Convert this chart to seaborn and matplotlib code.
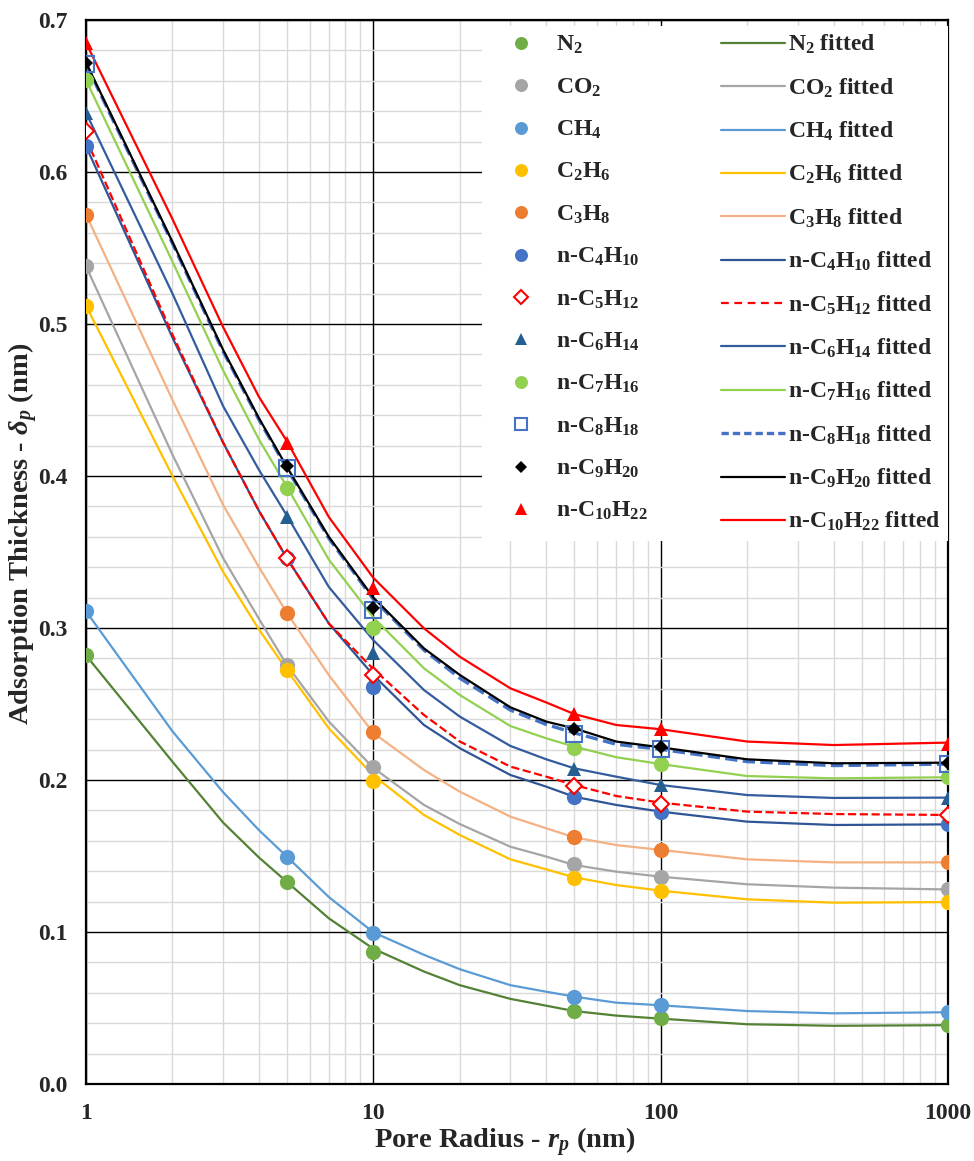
import numpy as np
import pandas as pd
import matplotlib
matplotlib.use("Agg")
import matplotlib.pyplot as plt
from matplotlib.lines import Line2D
from matplotlib.ticker import FixedLocator, NullFormatter, MultipleLocator, FuncFormatter
import seaborn as sns

# ---------------- data ----------------
x_pts = [1, 5, 10, 50, 100, 1000]
x_fit = [1, 2, 3, 4, 5, 7, 10, 15, 20, 30, 40, 50, 70, 100, 200, 400, 1000]

species = ["N2", "CO2", "CH4", "C2H6", "C3H8", "nC4H10", "nC5H12",
           "nC6H14", "nC7H16", "nC8H18", "nC9H20", "nC10H22"]
labels = ["N$_2$", "CO$_2$", "CH$_4$", "C$_2$H$_6$", "C$_3$H$_8$",
          "n-C$_4$H$_{10}$", "n-C$_5$H$_{12}$", "n-C$_6$H$_{14}$",
          "n-C$_7$H$_{16}$", "n-C$_8$H$_{18}$", "n-C$_9$H$_{20}$",
          "n-C$_{10}$H$_{22}$"]

pts_N2 = [0.282, 0.133, 0.087, 0.048, 0.0432, 0.0386]
pts_CO2 = [0.538, 0.2757, 0.2088, 0.1445, 0.1364, 0.128]
pts_CH4 = [0.311, 0.1496, 0.0995, 0.0572, 0.0518, 0.0472]
pts_C2H6 = [0.512, 0.2724, 0.1993, 0.1353, 0.127, 0.1197]
pts_C3H8 = [0.572, 0.3097, 0.2318, 0.1623, 0.154, 0.1458]
pts_C4 = [0.6173, 0.3458, 0.261, 0.1886, 0.179, 0.1708]
pts_C5 = [0.627, 0.346, 0.2691, 0.1963, 0.184, 0.177]
pts_C6 = [0.639, 0.3732, 0.2833, 0.2075, 0.1967, 0.1884]
pts_C7 = [0.6605, 0.3919, 0.2998, 0.221, 0.2104, 0.2018]
pts_C8 = [0.6708, 0.405, 0.3118, 0.230, 0.2202, 0.2105]
pts_C9 = [0.672, 0.4066, 0.3129, 0.2333, 0.222, 0.2114]
pts_C10 = [0.6846, 0.4219, 0.3261, 0.2434, 0.2338, 0.2235]

fit_N2 = [0.282, 0.212, 0.172, 0.149, 0.133, 0.109, 0.089, 0.074, 0.065, 0.056, 0.0515, 0.048, 0.045, 0.043, 0.0393, 0.0383, 0.0387]
fit_CO2 = [0.538, 0.414, 0.346, 0.306, 0.2757, 0.2385, 0.208, 0.1836, 0.171, 0.1561, 0.1496, 0.1441, 0.1397, 0.1364, 0.1314, 0.1292, 0.128]
fit_CH4 = [0.311, 0.232, 0.192, 0.167, 0.1496, 0.123, 0.0998, 0.085, 0.0755, 0.065, 0.0607, 0.0575, 0.0535, 0.0518, 0.048, 0.0465, 0.0472]
fit_C2H6 = [0.512, 0.400, 0.337, 0.299, 0.2724, 0.234, 0.203, 0.177, 0.1638, 0.1478, 0.1412, 0.136, 0.1309, 0.1272, 0.1215, 0.1193, 0.1197]
fit_C3H8 = [0.572, 0.450, 0.381, 0.340, 0.310, 0.269, 0.231, 0.2066, 0.1923, 0.1759, 0.1682, 0.1623, 0.1572, 0.154, 0.1478, 0.1458, 0.1458]
fit_C4 = [0.617, 0.491, 0.422, 0.377, 0.346, 0.303, 0.269, 0.2362, 0.2209, 0.2033, 0.1956, 0.189, 0.1836, 0.1792, 0.1726, 0.1704, 0.1708]
fit_C5 = [0.622, 0.493, 0.422, 0.377, 0.346, 0.303, 0.273, 0.2428, 0.2253, 0.2088, 0.2022, 0.1967, 0.1895, 0.1851, 0.1792, 0.1776, 0.177]
fit_C6 = [0.639, 0.520, 0.446, 0.404, 0.374, 0.327, 0.292, 0.2592, 0.2417, 0.2224, 0.2136, 0.2077, 0.2022, 0.1967, 0.1901, 0.1882, 0.1884]
fit_C7 = [0.6605, 0.541, 0.4695, 0.424, 0.393, 0.345, 0.307, 0.2735, 0.2559, 0.2355, 0.2274, 0.222, 0.215, 0.2105, 0.2026, 0.2011, 0.2018]
fit_C8 = [0.671, 0.553, 0.482, 0.437, 0.405, 0.359, 0.319, 0.2855, 0.267, 0.246, 0.2365, 0.231, 0.2235, 0.2202, 0.2121, 0.2095, 0.2105]
fit_C9 = [0.672, 0.554, 0.483, 0.438, 0.406, 0.360, 0.320, 0.2866, 0.2691, 0.2478, 0.2384, 0.234, 0.2253, 0.2215, 0.2136, 0.211, 0.2114]
fit_C10 = [0.685, 0.569, 0.498, 0.452, 0.423, 0.373, 0.333, 0.2998, 0.2811, 0.2603, 0.251, 0.2434, 0.2362, 0.2334, 0.2253, 0.223, 0.2246]

y_ticks = [0.0, 0.1, 0.2, 0.3, 0.4, 0.5, 0.6, 0.7]
x_ticks = [1, 10, 100, 1000]

pts_all = [pts_N2, pts_CO2, pts_CH4, pts_C2H6, pts_C3H8, pts_C4, pts_C5,
           pts_C6, pts_C7, pts_C8, pts_C9, pts_C10]
fit_all = [fit_N2, fit_CO2, fit_CH4, fit_C2H6, fit_C3H8, fit_C4, fit_C5,
           fit_C6, fit_C7, fit_C8, fit_C9, fit_C10]

df_pts = pd.DataFrame([(s, x, v) for s, vals in zip(species, pts_all)
                       for x, v in zip(x_pts, vals)], columns=["sp", "r", "d"])
df_fit = pd.DataFrame([(s, x, v) for s, vals in zip(species, fit_all)
                       for x, v in zip(x_fit, vals)], columns=["sp", "r", "d"])

# ---------------- styles ----------------
mk_style = {
    "N2": dict(marker="o", color="#70AD47", mfc="#70AD47", ms=11),
    "CO2": dict(marker="o", color="#A5A5A5", mfc="#A5A5A5", ms=11),
    "CH4": dict(marker="o", color="#5B9BD5", mfc="#5B9BD5", ms=11),
    "C2H6": dict(marker="o", color="#FFC000", mfc="#FFC000", ms=11),
    "C3H8": dict(marker="o", color="#ED7D31", mfc="#ED7D31", ms=11),
    "nC4H10": dict(marker="o", color="#4472C4", mfc="#4472C4", ms=11),
    "nC5H12": dict(marker="D", color="#FF0000", mfc="white", ms=8, mew=1.5),
    "nC6H14": dict(marker="^", color="#255E91", mfc="#255E91", ms=10),
    "nC7H16": dict(marker="o", color="#92D050", mfc="#92D050", ms=11),
    "nC8H18": dict(marker="s", color="#4472C4", mfc="none", ms=11, mew=1.5),
    "nC9H20": dict(marker="D", color="#000000", mfc="#000000", ms=7),
    "nC10H22": dict(marker="^", color="#FF0000", mfc="#FF0000", ms=10),
}
ln_style = {
    "N2": dict(color="#548235", lw=1.6, ls="-"),
    "CO2": dict(color="#A5A5A5", lw=1.6, ls="-"),
    "CH4": dict(color="#5B9BD5", lw=1.6, ls="-"),
    "C2H6": dict(color="#FFC000", lw=1.6, ls="-"),
    "C3H8": dict(color="#F4B183", lw=1.6, ls="-"),
    "nC4H10": dict(color="#2F5597", lw=1.6, ls="-"),
    "nC5H12": dict(color="#FF0000", lw=1.6, ls="--", dashes=(3.5, 2.5)),
    "nC6H14": dict(color="#335C9E", lw=1.6, ls="-"),
    "nC7H16": dict(color="#92D050", lw=1.6, ls="-"),
    "nC8H18": dict(color="#4472C4", lw=2.4, ls="--", dashes=(2.2, 1.2)),
    "nC9H20": dict(color="#000000", lw=1.6, ls="-"),
    "nC10H22": dict(color="#FF0000", lw=1.6, ls="-"),
}

# ---------------- figure ----------------
sns.set_style("white")
plt.rcParams["font.family"] = ["Liberation Serif", "DejaVu Serif"]
plt.rcParams["font.weight"] = "bold"
plt.rcParams["mathtext.fontset"] = "custom"
plt.rcParams["mathtext.rm"] = "Liberation Serif:bold"
plt.rcParams["mathtext.bf"] = "Liberation Serif:bold"
plt.rcParams["mathtext.it"] = "Liberation Serif:bold:italic"
plt.rcParams["mathtext.default"] = "rm"

fig = plt.figure(figsize=(9.74, 11.61), dpi=100)
ax = fig.add_axes([86 / 974, 77 / 1161, (948 - 86) / 974, (1084 - 20) / 1161])

for s in species:
    sub = df_fit[df_fit.sp == s]
    st = ln_style[s]
    kw = dict(color=st["color"], linewidth=st["lw"], linestyle=st["ls"])
    if "dashes" in st:
        kw["dashes"] = st["dashes"]
    sns.lineplot(data=sub, x="r", y="d", ax=ax, legend=False, zorder=3,
                 estimator=None, sort=True, **kw)

for s in species:
    sub = df_pts[df_pts.sp == s]
    st = mk_style[s]
    sns.lineplot(data=sub, x="r", y="d", ax=ax, legend=False, zorder=4,
                 estimator=None, linestyle="none", marker=st["marker"],
                 markersize=st["ms"], markerfacecolor=st["mfc"],
                 markeredgecolor=st["color"],
                 markeredgewidth=st.get("mew", 0.0), color=st["color"])

ax.set_xscale("log")
ax.set_xlim(1, 1000)
ax.set_ylim(0, 0.7)
ax.xaxis.set_major_locator(FixedLocator(x_ticks))
ax.xaxis.set_minor_locator(FixedLocator(
    [m * 10 ** e for e in range(0, 3) for m in range(2, 10)]))
ax.xaxis.set_major_formatter(FuncFormatter(lambda v, p: f"{v:g}"))
ax.xaxis.set_minor_formatter(NullFormatter())
ax.yaxis.set_major_locator(FixedLocator(y_ticks))
ax.yaxis.set_minor_locator(MultipleLocator(0.02))
ax.yaxis.set_major_formatter(FuncFormatter(lambda v, p: f"{v:.1f}"))

ax.grid(which="minor", color="#D9D9D9", linewidth=1.0, zorder=0)
ax.grid(which="major", color="#000000", linewidth=1.0, zorder=1)
ax.set_axisbelow(True)
ax.tick_params(which="both", length=0, labelsize=17)
ax.tick_params(axis="y", pad=13)
ax.tick_params(axis="x", pad=14)
for lab in ax.get_xticklabels() + ax.get_yticklabels():
    lab.set_fontweight("bold")
for sp in ax.spines.values():
    sp.set_color("black")
    sp.set_linewidth(1.6)

ax.set_xlabel("Pore Radius - $\\mathit{r_p}$ (nm)", fontsize=20.5,
              fontweight="bold")
ax.set_ylabel("Adsorption Thickness - $\\mathit{\\delta_p}$ (nm)", fontsize=20.5,
              fontweight="bold")
ax.xaxis.set_label_coords((505 - 86) / 862, -(1125 - 1084) / 1064)
ax.yaxis.set_label_coords((40 - 86) / 862, (1084 - 534) / 1064)

# legend
h_mk, h_ln = [], []
for s in species:
    st = mk_style[s]
    h_mk.append(Line2D([], [], linestyle="none", marker=st["marker"],
                       markersize=st["ms"] * 0.85, markerfacecolor=st["mfc"],
                       markeredgecolor=st["color"],
                       markeredgewidth=st.get("mew", 0.0)))
    lt = ln_style[s]
    kw = dict(color=lt["color"], linewidth=lt["lw"], linestyle=lt["ls"])
    if "dashes" in lt:
        kw["dashes"] = lt["dashes"]
    h_ln.append(Line2D([], [], **kw))
leg_labels = labels + [l + " fitted" for l in labels]
leg = ax.legend(h_mk + h_ln, leg_labels, ncol=2, loc="upper right",
                bbox_to_anchor=(1.0, 1.0 - 6 / 1064), borderaxespad=0.0,
                frameon=True, fancybox=False, framealpha=1.0,
                prop={"family": "Liberation Serif", "weight": "bold", "size": 17},
                handlelength=2.7, handletextpad=0.15, columnspacing=3.1,
                labelspacing=0.85, borderpad=0.3)
leg.get_frame().set_edgecolor("white")
leg.get_frame().set_linewidth(0)
leg.set_zorder(10)

fig.savefig("out.png", dpi=100)
